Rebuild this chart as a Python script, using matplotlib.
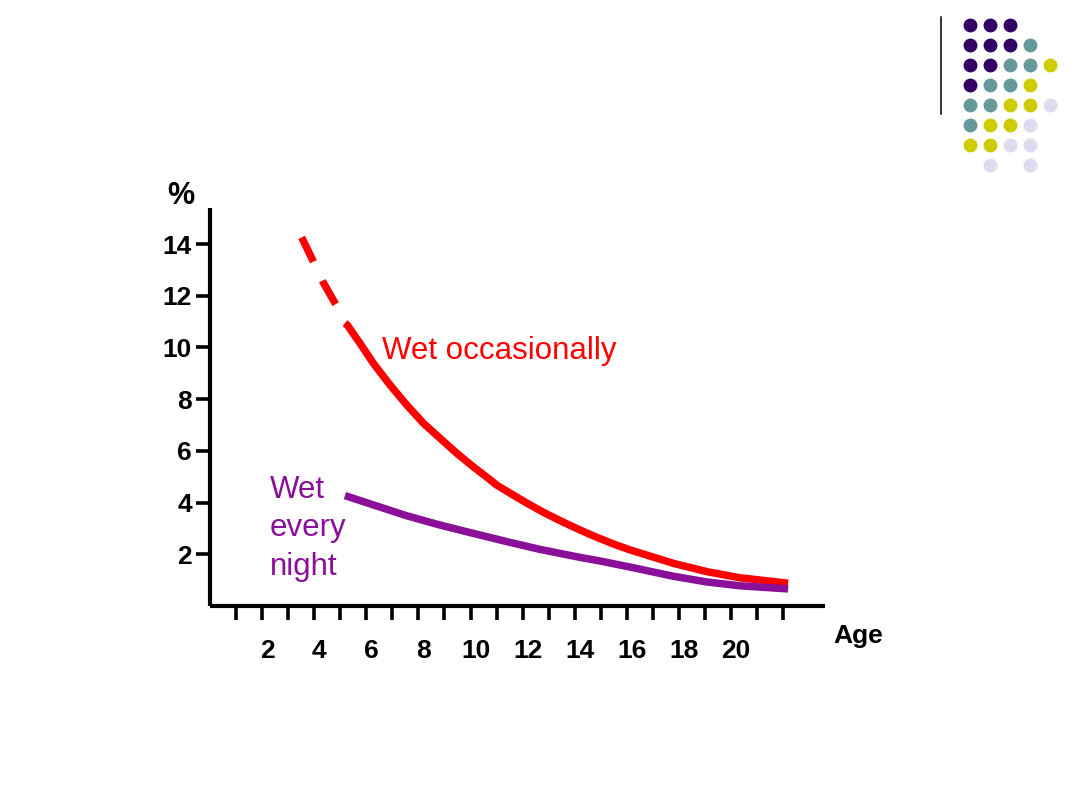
import matplotlib
matplotlib.use("Agg")
import matplotlib.pyplot as plt
import matplotlib.transforms as mtransforms
from matplotlib.lines import Line2D

plt.rcParams['font.family'] = ['Liberation Sans', 'DejaVu Sans']

# red curve, dashed start (age, %)
red_dash_age = [3.52, 3.97, 4.33, 4.86, 5.18]
red_dash_pct = [14.26, 13.32, 12.55, 11.61, 10.94]

# red curve, solid part
red_age = [5.18, 5.27, 5.76, 6.27, 6.91, 7.55, 8.19, 8.83, 9.47, 10.10,
           10.68, 11.00, 11.64, 12.28, 12.92, 13.56, 14.20, 14.84, 15.48,
           16.12, 16.76, 17.78, 19.06, 20.34, 22.19]
red_pct = [10.94, 10.87, 10.16, 9.39, 8.55, 7.78, 7.07, 6.49, 5.91, 5.39,
           4.94, 4.68, 4.29, 3.91, 3.56, 3.24, 2.94, 2.66, 2.40,
           2.17, 1.97, 1.65, 1.33, 1.09, 0.88]

# purple curve
purple_age = [5.18, 6.27, 7.55, 8.83, 10.10, 11.39, 12.66, 14.20, 14.97,
              16.24, 17.78, 19.06, 20.34, 22.19]
purple_pct = [4.27, 3.91, 3.49, 3.13, 2.81, 2.49, 2.19, 1.88, 1.74,
              1.48, 1.15, 0.93, 0.78, 0.66]

x_ticks = list(range(1, 23))
x_labels = [str(t) if t % 2 == 0 and t <= 20 else '' for t in x_ticks]
y_ticks = [2, 4, 6, 8, 10, 12, 14]

# decoration dots, rows top to bottom: P purple, T teal, Y yellow, L lavender
dot_rows = ["PPP  ",
            "PPPT ",
            "PPTTY",
            "PTTY ",
            "TTYYL",
            "TYYL ",
            "YYLL ",
            " L L "]
dot_colors = {'P': '#330066', 'T': '#669999', 'Y': '#cccc00', 'L': '#dcdcee'}

RED = '#ff0000'
PURPLE = '#8a0f99'
LW = 5.4

fig = plt.figure(figsize=(10.8, 8.1), dpi=100)
ax = fig.add_axes([0.1944, 0.2519, 0.5694, 0.4914])

ax.plot(red_dash_age, red_dash_pct, color=RED, lw=LW,
        linestyle=(0, (3.6, 2.8)), dash_capstyle='butt')
ax.plot(red_age, red_pct, color=RED, lw=LW, solid_capstyle='butt',
        solid_joinstyle='round')
ax.plot(purple_age, purple_pct, color=PURPLE, lw=LW, solid_capstyle='butt',
        solid_joinstyle='round')

ax.set_xlim(0, 23.6)
ax.set_ylim(0, 15.4)
for side in ['top', 'right']:
    ax.spines[side].set_visible(False)
for side in ['left', 'bottom']:
    ax.spines[side].set_linewidth(3.0)
    ax.spines[side].set_capstyle('butt')

ax.set_xticks(x_ticks)
ax.set_xticklabels(x_labels)
ax.set_yticks(y_ticks)
ax.tick_params(axis='both', direction='out', length=10, width=2.6,
               labelsize=19)
ax.tick_params(axis='x', pad=14)
ax.tick_params(axis='y', pad=3)
for lab in ax.get_xticklabels() + ax.get_yticklabels():
    lab.set_fontweight('bold')
shift = mtransforms.ScaledTranslation(0.05, 0, fig.dpi_scale_trans)
for lab in ax.get_xticklabels():
    lab.set_transform(lab.get_transform() + shift)

ax.text(-1.1, 15.85, '%', fontsize=22, fontweight='bold',
        ha='center', va='center', clip_on=False)
ax.text(24.87, -1.16, 'Age', fontsize=19, fontweight='bold',
        ha='center', va='center', clip_on=False)

ax.text(6.6, 9.85, 'Wet occasionally', color=RED, fontsize=22.5,
        ha='left', va='center')
ax.text(2.3, 3.0, 'Wet\nevery\nnight', color=PURPLE, fontsize=22.5,
        ha='left', va='center', linespacing=1.36)

# decoration in the top right corner
deco = fig.add_axes([0.8889, 0.78395, 0.09259, 0.19753])
for r, row in enumerate(dot_rows):
    for c, ch in enumerate(row):
        if ch != ' ':
            deco.scatter(c, r, s=100, color=dot_colors[ch], linewidths=0)
deco.set_xlim(-0.5, 4.5)
deco.set_ylim(7.5, -0.5)
deco.axis('off')

fig.add_artist(Line2D([0.871, 0.871], [0.859, 0.979], color='black', lw=1.1,
                      transform=fig.transFigure))

fig.savefig('out.png', dpi=100)
